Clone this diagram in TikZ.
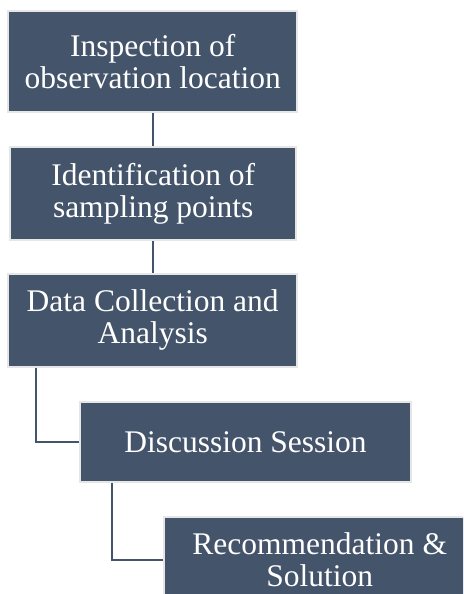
\documentclass[tikz,border=0pt]{standalone}
\usepackage{fontspec}
\setmainfont{Liberation Serif}
\usepackage{xcolor}
\usepackage{tikz}
\usetikzlibrary{calc, positioning}
\definecolor{slate}{HTML}{44546A}
\definecolor{rim}{HTML}{E7E6E6}
\tikzstyle{stage}=[rectangle, draw=rim, line width=2pt, fill=slate, text=white, align=center, font=\fontsize{31.5}{32}\selectfont]
\tikzstyle{link}=[draw=slate, line width=1.8pt]

\begin{document}
\begin{tikzpicture}[x=1pt, y=-1pt]
\clip (0,0) rectangle (463,594);

% Steps
\node[stage, minimum width=288.7pt, minimum height=101pt] (s1) at (152.7,61.5) {Inspection of\\observation location};
\node[stage, minimum width=285.7pt, minimum height=93pt] (s2) at (153.2,193.5) {Identification of\\sampling points};
\node[stage, minimum width=288.7pt, minimum height=92.7pt] (s3) at (152.7,320.3) {Data Collection and\\Analysis};
\node[stage, minimum width=331pt, minimum height=80.3pt] (s4) at (245.5,441.8) {Discussion Session};
\node[stage, minimum width=312pt, minimum height=86pt] (s5) at (319.7,559.7) {Recommendation \&\\Solution};

% Links
\draw[link] (s1.south) -- (s1.south |- s2.north);
\draw[link] (s2.south) -- (s2.south |- s3.north);
\draw[link] ([xshift=28.7pt]s3.south west) |- (s4.west);
\draw[link] ([xshift=33pt]s4.south west) |- (s5.west);

\end{tikzpicture}
\end{document}
